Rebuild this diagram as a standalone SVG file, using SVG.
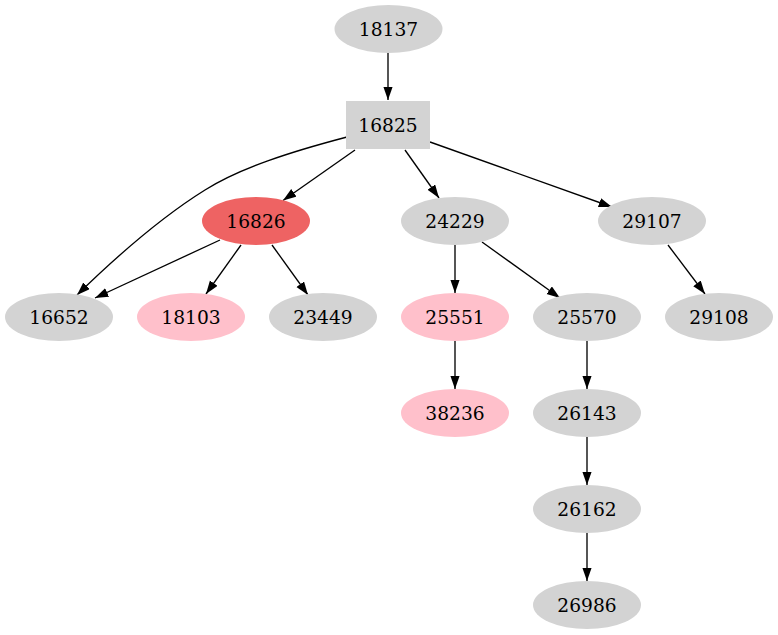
<svg xmlns="http://www.w3.org/2000/svg" width="778" height="635" viewBox="0 0 778 635">
<style>
.n{fill:#d3d3d3;stroke:none}
.p{fill:#ffc0cb;stroke:none}
.r{fill:#ee6363;stroke:none}
text{font-family:"DejaVu Serif","Liberation Serif",serif;font-size:18.67px;text-anchor:middle;fill:#000}
.e{fill:none;stroke:#000;stroke-width:1.33;marker-end:url(#a)}
</style>
<defs>
<marker id="a" markerUnits="userSpaceOnUse" markerWidth="14" markerHeight="10" refX="13.3" refY="4.67" orient="auto">
<path d="M0,0 L13.3,4.67 L0,9.33 Z" fill="#000"/>
</marker>
</defs>
<rect width="778" height="635" fill="#fff"/>
<g id="edges">
<line class="e" x1="388" y1="53" x2="388" y2="100"/>
<line class="e" x1="355" y1="150" x2="283" y2="200.5"/>
<line class="e" x1="405" y1="150" x2="439" y2="198"/>
<line class="e" x1="430" y1="142" x2="612" y2="207"/>
<path class="e" d="M347,137 C290,152 240,168 205,190 C160,218 118,255 77,295"/>
<line class="e" x1="220" y1="240" x2="95" y2="298"/>
<line class="e" x1="241" y1="245" x2="206" y2="294"/>
<line class="e" x1="272" y1="245" x2="308" y2="295"/>
<line class="e" x1="455" y1="245" x2="455" y2="293"/>
<line class="e" x1="482" y1="242" x2="560" y2="298"/>
<line class="e" x1="668" y1="245" x2="705" y2="294"/>
<line class="e" x1="455" y1="341" x2="455" y2="389"/>
<line class="e" x1="587" y1="341" x2="587" y2="389"/>
<line class="e" x1="587" y1="437" x2="587" y2="485"/>
<line class="e" x1="587" y1="533" x2="587" y2="581"/>
</g>
<g id="n18137"><ellipse class="n" cx="388.5" cy="29" rx="54" ry="24"/><text x="388.5" y="35.5">18137</text></g>
<g id="n16825"><rect class="n" x="346" y="101" width="84" height="48"/><text x="388" y="131.5">16825</text></g>
<g id="n16826"><ellipse class="r" cx="256" cy="221" rx="54" ry="24"/><text x="256" y="227.5">16826</text></g>
<g id="n24229"><ellipse class="n" cx="455" cy="221" rx="54" ry="24"/><text x="455" y="227.5">24229</text></g>
<g id="n29107"><ellipse class="n" cx="652" cy="221" rx="54" ry="24"/><text x="652" y="227.5">29107</text></g>
<g id="n16652"><ellipse class="n" cx="59" cy="317" rx="54" ry="24"/><text x="59" y="323.5">16652</text></g>
<g id="n18103"><ellipse class="p" cx="191" cy="317" rx="54" ry="24"/><text x="191" y="323.5">18103</text></g>
<g id="n23449"><ellipse class="n" cx="323" cy="317" rx="54" ry="24"/><text x="323" y="323.5">23449</text></g>
<g id="n25551"><ellipse class="p" cx="455" cy="317" rx="54" ry="24"/><text x="455" y="323.5">25551</text></g>
<g id="n25570"><ellipse class="n" cx="587" cy="317" rx="54" ry="24"/><text x="587" y="323.5">25570</text></g>
<g id="n29108"><ellipse class="n" cx="719" cy="317" rx="54" ry="24"/><text x="719" y="323.5">29108</text></g>
<g id="n38236"><ellipse class="p" cx="455" cy="413" rx="54" ry="24"/><text x="455" y="419.5">38236</text></g>
<g id="n26143"><ellipse class="n" cx="587" cy="413" rx="54" ry="24"/><text x="587" y="419.5">26143</text></g>
<g id="n26162"><ellipse class="n" cx="587" cy="509" rx="54" ry="24"/><text x="587" y="515.5">26162</text></g>
<g id="n26986"><ellipse class="n" cx="587" cy="605" rx="54" ry="24"/><text x="587" y="611.5">26986</text></g>
</svg>
